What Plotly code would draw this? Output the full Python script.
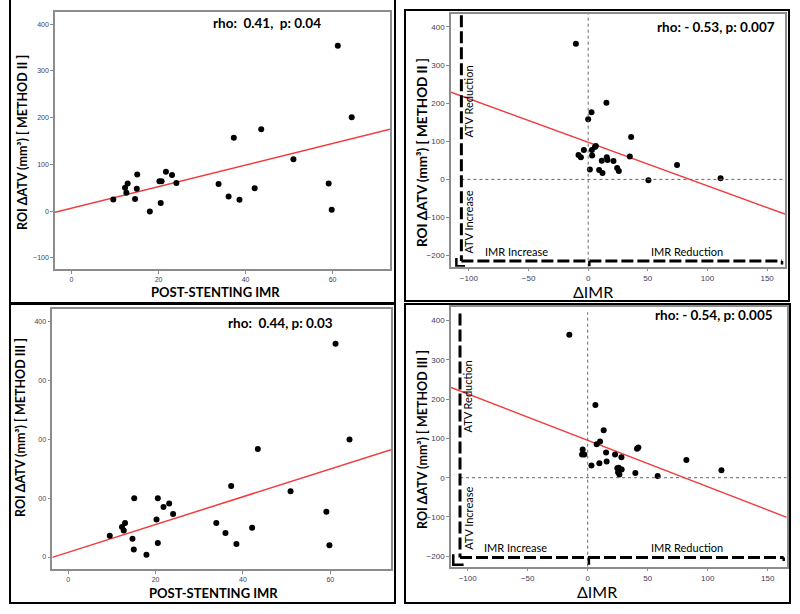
import plotly.graph_objects as go

W, H = 800, 614

# ---- data ----
tl_imr = [9.6, 12.3, 12.9, 12.6, 14.6, 15.0, 15.1, 18.0, 20.2, 20.7, 20.5, 21.7, 23.1,
          24.1, 33.8, 36.1, 37.3, 38.6, 42.1, 43.6, 51.0, 59.1, 59.8, 61.2, 64.4]
tl_atv = [25, 50, 59, 39, 26, 48, 78, -1, 64, 64, 17, 84, 77,
          60, 58, 31, 157, 24, 49, 175, 111, 59, 3, 354, 201]
tl_fit_x = [-3.8, 73.2]
tl_fit_y = [-2.8, 175]

tr_dimr = [-10.3, -8.1, -6.1, -3.6, 0.0, 2.8, 1.4, 3.1, 3.3, 5.6, 6.4, 9.2, 11.4,
           12.0, 15.3, 15.6, 16.2, 21.2, 24.3, 25.7, 34.9, 36.0, 50.5, 74.5, 111.0]
tr_atv = [356, 64, 58, 77, 158, 176, 26, 77, 63, 85, 88, 25, 49,
          17, 201, 58, 51, 48, 30, 22, 60, 111, -2, 38, 3]
tr_fit_x = [-115, 165]
tr_fit_y = [229, -91]

bl_imr = [9.5, 12.3, 12.7, 13.0, 14.7, 15.0, 15.1, 17.9, 20.2, 20.5, 20.5, 21.8, 23.1,
          24.0, 33.9, 36.0, 37.3, 38.5, 42.1, 43.4, 50.9, 59.1, 59.8, 61.2, 64.4]
bl_atv = [36, 51, 45, 58, 31, 13, 100, 4, 64, 100, 24, 85, 91,
          73, 58, 41, 121, 22, 50, 184, 112, 77, 20, 363, 200]
bl_fit_x = [-3.66, 73.9]
bl_fit_y = [-0.6, 182.7]
bl_ytickvals = [0, 100, 200, 300, 400]
bl_yticktext = ["0", "00", "00", "00", "400"]

br_dimr = [-15.3, -4.2, -4.7, -2.8, 3.1, 6.4, 7.5, 10.3, 9.7, 13.3, 15.3, 15.8, 22.8,
           25.3, 25.8, 26.4, 28.1, 28.3, 24.7, 39.7, 41.1, 42.2, 58.3, 82.2, 111.4]
br_atv = [364, 72, 59, 59, 31, 185, 85, 92, 37, 121, 64, 41, 59,
          14, 25, 8, 52, 21, 24, 12, 74, 77, 4, 45, 19]
br_fit_x = [-113.9, 165.8]
br_fit_y = [230, -101]


def px(x):
    return x / W


def py(y):
    return 1 - y / H


FONT = "Lato"
TICKFONT = dict(family="Liberation Sans", size=7, color="#3d3d5c")
FRAME = "#8c8c8c"

fig = go.Figure()

panels = [
    ("x", "y", tl_imr, tl_atv, tl_fit_x, tl_fit_y),
    ("x2", "y2", tr_dimr, tr_atv, tr_fit_x, tr_fit_y),
    ("x3", "y3", bl_imr, bl_atv, bl_fit_x, bl_fit_y),
    ("x4", "y4", br_dimr, br_atv, br_fit_x, br_fit_y),
]
for xa, ya, xs, ys, fx, fy in panels:
    fig.add_trace(go.Scatter(x=fx, y=fy, mode="lines", xaxis=xa, yaxis=ya,
                             line=dict(color="#f03c3c", width=1.5), showlegend=False))
    fig.add_trace(go.Scatter(x=xs, y=ys, mode="markers", xaxis=xa, yaxis=ya,
                             marker=dict(color="black", size=6), showlegend=False))


def axis(domain, rng, tickvals, anchor, ticktext=None, fsize=7):
    d = dict(domain=domain, range=rng, tickvals=tickvals, anchor=anchor,
             showline=True, mirror=True, linecolor=FRAME, linewidth=1.5,
             showgrid=False, zeroline=False, ticks="outside", ticklen=3,
             tickcolor=FRAME, tickfont=dict(TICKFONT, size=fsize), automargin=False)
    if ticktext:
        d["ticktext"] = ticktext
    return d


fig.update_layout(
    width=W, height=H, margin=dict(l=0, r=0, t=0, b=0),
    paper_bgcolor="white", plot_bgcolor="white",
    xaxis=axis([px(55), px(390)], [-3.8, 73.2], [0, 20, 40, 60], "y"),
    yaxis=axis([py(269), py(12)], [-124, 426], [-100, 0, 100, 200, 300, 400], "x"),
    xaxis2=axis([px(451), px(785)], [-115, 165], [-100, -50, 0, 50, 100, 150], "y2", fsize=8),
    yaxis2=axis([py(266.7), py(14)], [-229, 434], [-200, -100, 0, 100, 200, 300, 400], "x2", fsize=8),
    xaxis3=axis([px(52.3), px(391)], [-3.66, 73.9], [0, 20, 40, 60], "y3"),
    yaxis3=axis([py(569), py(309.3)], [-20.4, 421.6], bl_ytickvals, "x3", bl_yticktext),
    xaxis4=axis([px(451), px(786.7)], [-113.9, 165.8], [-100, -50, 0, 50, 100, 150], "y4", fsize=8),
    yaxis4=axis([py(566.7), py(306.7)], [-226.7, 435.5], [-200, -100, 0, 100, 200, 300, 400], "x4", fsize=8),
)

shapes = []
# panel borders
black = dict(color="black", width=2)
for x0, y0, x1, y1 in [(10, 0, 10, 303), (10, 303, 395, 303), (395, 0, 395, 303)]:
    shapes.append(dict(type="line", xref="paper", yref="paper",
                       x0=px(x0), y0=py(y0), x1=px(x1), y1=py(y1), line=black))
for x0, y0, x1, y1 in [(405, 10, 789, 301), (10, 304, 395, 603), (405, 304, 790, 603)]:
    shapes.append(dict(type="rect", xref="paper", yref="paper",
                       x0=px(x0), y0=py(y0), x1=px(x1), y1=py(y1), line=black))

# quadrant guides in the delta-IMR panels
for xr, yr, vx, hy, top, bottom, left, right, cx0, cy_low in [
    ("x2", "y2", -106.3, -214, 431, -229, -115, 165, -110.5, -228),
    ("x4", "y4", -106.4, -203, 418, -226.7, -113.9, 165.8, -112, -222),
]:
    dot = dict(color="#666666", width=1, dash="dot")
    shapes.append(dict(type="line", xref=xr, yref=yr, x0=0, x1=0, y0=bottom, y1=top + 3, line=dot))
    shapes.append(dict(type="line", xref=xr, yref=yr, x0=vx, x1=right, y0=0, y1=0, line=dot))
    dash = dict(color="black", width=3, dash="12px,4px")
    shapes.append(dict(type="line", xref=xr, yref=yr, x0=vx, x1=vx, y0=top, y1=hy, line=dash))
    shapes.append(dict(type="line", xref=xr, yref=yr, x0=vx, x1=right - 2.5, y0=hy, y1=hy, line=dash))
    solid = dict(color="black", width=2.5)
    shapes.append(dict(type="path", xref=xr, yref=yr,
                       path=f"M {cx0} {hy + 8} L {cx0} {cy_low} L {vx + 3} {cy_low}", line=solid))
    shapes.append(dict(type="line", xref=xr, yref=yr, x0=1, x1=1, y0=hy, y1=cy_low, line=solid))
    shapes.append(dict(type="line", xref=xr, yref=yr, x0=right - 2.5, x1=right - 2.5,
                       y0=hy, y1=hy - 9, line=solid))
fig.update_layout(shapes=shapes)

ann = []


def text(x, y, s, size, bold=True, angle=0, xanchor="center", xref="paper", yref="paper"):
    if xref == "paper":
        x, y = px(x), py(y)
    ann.append(dict(x=x, y=y, xref=xref, yref=yref, text=s, showarrow=False,
                    textangle=angle, xanchor=xanchor, yanchor="middle",
                    font=dict(family=FONT, size=size, color="black",
                              weight="bold" if bold else "normal")))


# statistics
text(267, 23, "rho:  0.41,  p: 0.04", 13.5)
text(777, 27, "rho: - 0.53, p: 0.007", 13.5, xanchor="right")
text(280, 323, "rho:  0.44, p: 0.03", 13.5)
text(775, 315, "rho: - 0.54, p: 0.005", 13.5, xanchor="right")

# axis titles
text(215, 292, "POST-STENTING IMR", 13)
text(22, 143, "ROI ΔATV (mm³) [ METHOD II ]", 12.5, angle=-90)
text(422, 153, "ROI ΔATV (mm³) [ METHOD II ]", 13.5, angle=-90)
text(593, 291, "ΔIMR", 16, bold=False)
text(20, 428, "ROI ΔATV (mm³) [ METHOD III ]", 12.5, angle=-90)
text(213, 593, "POST-STENTING IMR", 13)
text(422, 440, "ROI ΔATV (mm³) [ METHOD III ]", 12.5, angle=-90)
text(597, 591, "ΔIMR", 16, bold=False)

# quadrant labels
for xr, yr, red_y, inc_y, lab_y in [("x2", "y2", 204, -111, -188), ("x4", "y4", 206, -103, -177)]:
    text(-100, red_y, "ATV Reduction", 11, bold=False, angle=-90, xref=xr, yref=yr)
    text(-100, inc_y, "ATV Increase", 11, bold=False, angle=-90, xref=xr, yref=yr)
    text(-60, lab_y, "IMR Increase", 11, bold=False, xref=xr, yref=yr)
    text(83, lab_y, "IMR Reduction", 11, bold=False, xref=xr, yref=yr)

fig.update_layout(annotations=ann)
fig.write_html("out.html", config={"displayModeBar": False},
               post_script="document.body.style.margin='0px';")
